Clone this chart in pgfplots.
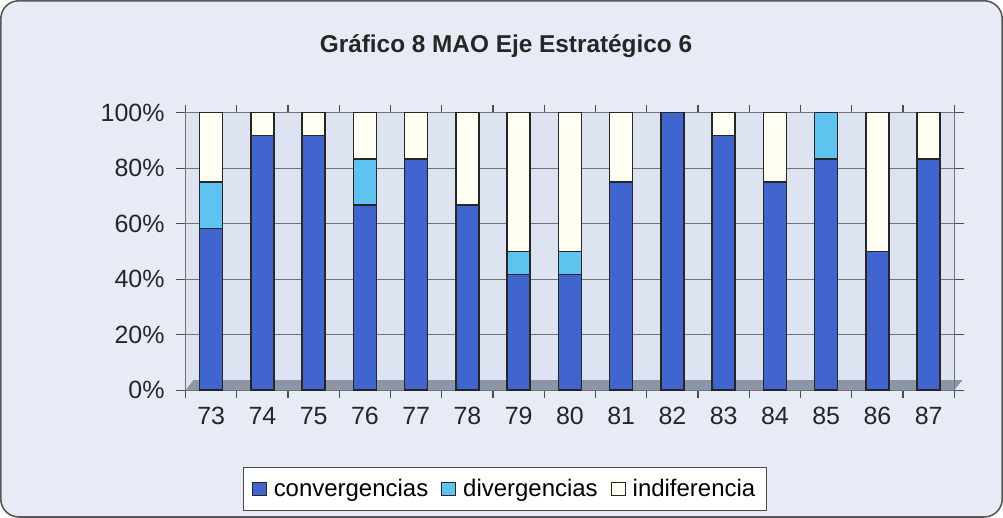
\documentclass[border=0pt]{standalone}
\usepackage{pgfplots}
\pgfplotsset{compat=1.18}
\usepackage{fontspec}
\setmainfont{Liberation Sans}
\definecolor{bgc}{HTML}{E7EBF5}
\definecolor{wallc}{HTML}{DDE3F0}
\definecolor{conv}{HTML}{4065CF}
\definecolor{div}{HTML}{5EC3EE}
\definecolor{ind}{HTML}{FFFFF3}
\definecolor{floorc}{HTML}{8C94A8}
\begin{document}
\begin{tikzpicture}
\draw[gray!70!black, line width=0.8pt, rounded corners=9pt, fill=bgc] (0,0) rectangle (501.5pt,258.5pt);
\node[font=\bfseries\fontsize{12.2}{14}\selectfont, text=black!85] at (253pt,236pt) {Gráfico 8 MAO Eje Estratégico 6};
\fill[wallc] (92.5pt,63.5pt) rectangle (477.5pt,202.5pt);
\fill[floorc] (92.5pt,63.5pt) -- (477.5pt,63.5pt) -- (481.5pt,68.5pt) -- (96.5pt,68.5pt) -- cycle;
\begin{axis}[
  at={(92.5pt,63.5pt)}, anchor=south west,
  scale only axis, width=385pt, height=139pt,
  ybar stacked, bar width=11.5pt,
  xmin=-0.5, xmax=14.5, ymin=0, ymax=100,
  xtick=data,
  xticklabels={73,74,75,76,77,78,79,80,81,82,83,84,85,86,87},
  minor xtick={-0.5,0.5,...,14.5},
  ytick={0,20,40,60,80,100},
  yticklabels={0\%,20\%,40\%,60\%,80\%,100\%},
  ymajorgrids, major grid style={black!55, line width=0.6pt},
  major x tick style={draw=none},
  minor x tick style={black!70, line width=0.6pt},
  minor tick length=4pt,
  major y tick style={black!70, line width=0.6pt},
  major tick length=5pt,
  tick align=outside,
  axis line style={black!55, line width=0.6pt},
  ticklabel style={font=\fontsize{12.5}{14}\selectfont, text=black!85},
  yticklabel style={xshift=-2pt},
  legend style={at={(0.4156,-0.356)}, anchor=center, legend columns=3,
    font=\fontsize{12}{13}\selectfont, draw=black!70, fill=white,
    inner xsep=4pt, inner ysep=3.5pt,
    nodes={inner xsep=1.5pt},
    /tikz/every odd column/.append style={column sep=2pt},
    /tikz/every even column/.append style={column sep=5pt}},
  legend image code/.code={\draw[#1, draw=black!85, line width=0.5pt] (0pt,-3.5pt) rectangle (7pt,3.5pt);},
]
\addplot[fill=conv, draw=black!85, line width=0.7pt] coordinates {(0,58.33) (1,91.67) (2,91.67) (3,66.67) (4,83.33) (5,66.67) (6,41.67) (7,41.67) (8,75) (9,100) (10,91.67) (11,75) (12,83.33) (13,50) (14,83.33)};
\addplot[fill=div, draw=black!85, line width=0.7pt] coordinates {(0,16.67) (1,0) (2,0) (3,16.67) (4,0) (5,0) (6,8.33) (7,8.33) (8,0) (9,0) (10,0) (11,0) (12,16.67) (13,0) (14,0)};
\addplot[fill=ind, draw=black!85, line width=0.7pt] coordinates {(0,25) (1,8.33) (2,8.33) (3,16.66) (4,16.67) (5,33.33) (6,50) (7,50) (8,25) (9,0) (10,8.33) (11,25) (12,0) (13,50) (14,16.67)};
\legend{convergencias,divergencias,indiferencia}
\end{axis}
\end{tikzpicture}
\end{document}
